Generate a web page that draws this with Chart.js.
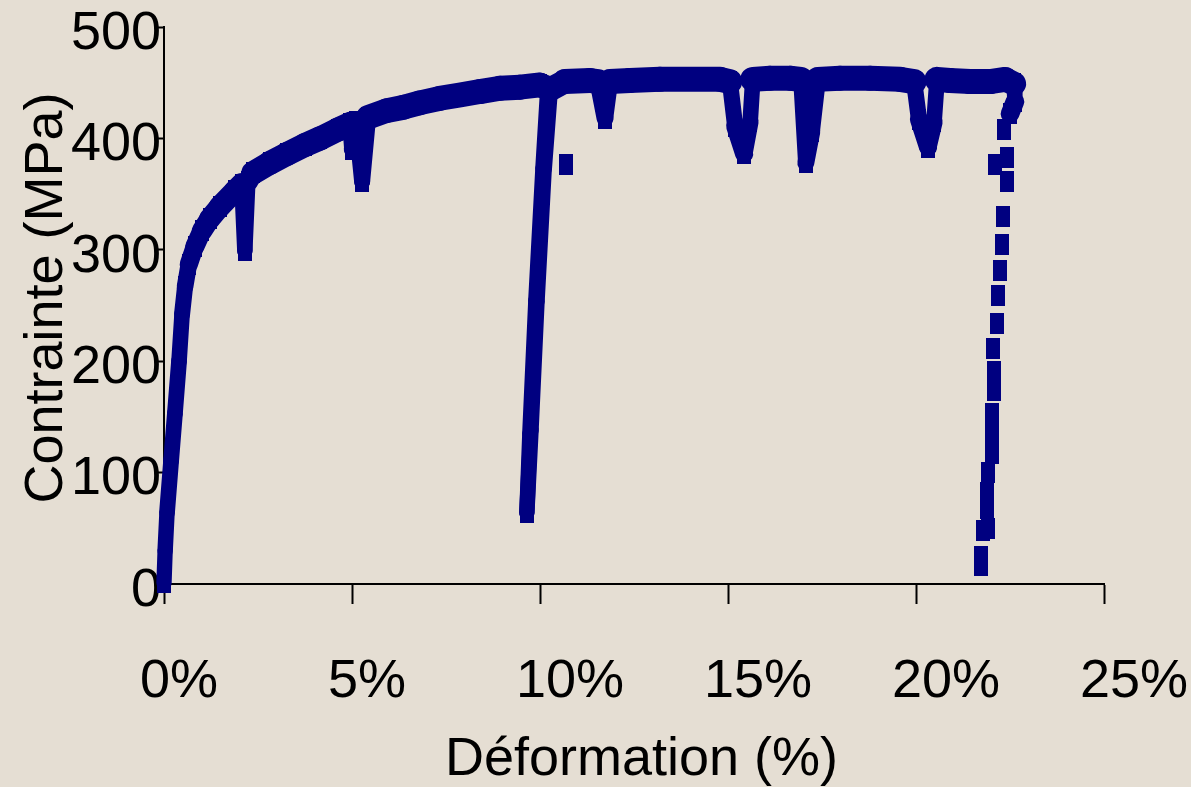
<!DOCTYPE html>
<html>
<head>
<meta charset="utf-8">
<script src="https://cdn.jsdelivr.net/npm/chart.js@4.4.1/dist/chart.umd.min.js"></script>
<style>
  html, body { margin: 0; padding: 0; background: #E5DED3; }
  canvas { display: block; }
</style>
</head>
<body>
<canvas id="courbe" width="1191" height="787"></canvas>
<script>
// Courbe de traction : déformation (%) / contrainte (MPa), dans l'ordre de l'essai
const deformation = [
    0.00, 0.03, 0.08, 0.19, 0.29, 0.40, 0.48, 0.56, 0.66, 0.82, 1.01, 1.22, 1.49, 1.89,
    2.07, 2.15, 2.23, 2.37, 2.82, 3.27, 3.75, 4.15, 4.63,
    4.95, 5.00, 5.11, 5.27, 5.43, 5.93, 6.38, 6.81, 7.34, 7.87, 8.40, 8.94, 9.47, 10.00,
    10.21, 10.08, 9.89, 9.73, 9.65, 9.76, 9.92, 10.11, 10.27,
    10.66, 11.33, 11.54, 11.73, 11.86, 12.39, 13.19, 13.99, 14.79,
    15.05, 15.19, 15.43, 15.59, 15.66, 16.12, 16.65,
    16.94, 17.07, 17.23, 17.39, 17.98, 18.78, 19.57,
    19.95, 20.08, 20.32, 20.48, 20.56, 20.90, 21.44, 21.97, 22.37, 22.61, 22.63, 22.50
];
const contrainte = [
    1, 30, 64, 111, 153, 200, 242, 267, 287, 303, 317, 328, 339, 353,
    359, 299, 361, 369, 378, 386, 394, 400, 408,
    413, 390, 415, 361, 419, 425, 428, 432, 436, 439, 442, 445, 446, 448,
    445, 373, 254, 135, 64, 138, 254, 373, 444,
    451, 452, 451, 418, 451, 452, 453, 453, 453,
    451, 411, 386, 415, 453, 454, 454,
    453, 378, 406, 453, 454, 454, 453,
    451, 417, 392, 415, 453, 452, 451, 451, 453, 449, 433, 422
];

// Décharge finale (points espacés)
const deformationFin = [
    22.34, 22.10, 22.42, 22.42, 22.31, 22.29, 22.23, 22.18, 22.15, 22.05, 22.07, 22.07,
    22.02, 22.02, 22.02, 21.91, 21.89, 21.89, 21.78, 21.91, 21.73, 21.73
];
const contrainteFin = [
    408, 377, 383, 361, 330, 305, 281, 259, 234, 211, 191, 174,
    153, 135, 117, 100, 82, 68, 48, 50, 25, 17
];

// Point isolé
const deformationIsole = [10.69];
const contrainteIsole = [377];

const ticksX = [0, 5, 10, 15, 20, 25];
const ticksY = [0, 100, 200, 300, 400, 500];

const bleu = '#000080';
const police = "'Liberation Sans', Arial, sans-serif";

// Marqueur rectangulaire (plus haut que large)
function marqueur(w, h) {
    const c = document.createElement('canvas');
    c.width = w;
    c.height = h;
    const g = c.getContext('2d');
    g.fillStyle = bleu;
    g.fillRect(0, 0, w, h);
    return c;
}
const rect = marqueur(14, 21);

function points(xs, ys) {
    return xs.map((x, i) => ({ x: x, y: ys[i] }));
}

const fond = {
    id: 'fond',
    beforeDraw(chart) {
        const ctx = chart.ctx;
        ctx.save();
        ctx.fillStyle = '#E5DED3';
        ctx.fillRect(0, 0, chart.width, chart.height);
        ctx.restore();
    }
};

new Chart(document.getElementById('courbe'), {
    type: 'scatter',
    data: {
        datasets: [{
            data: points(deformation, contrainte),
            showLine: true,
            tension: 0,
            borderColor: bleu,
            backgroundColor: bleu,
            borderWidth: 20,
            borderCapStyle: 'round',
            borderJoinStyle: 'round',
            pointStyle: rect,
            pointRadius: 7,
            clip: false,
            segment: {
                // trait plus épais sur les parties horizontales (nuage de points dense)
                borderWidth: ctx => {
                    const dx = ctx.p1.x - ctx.p0.x;
                    const dy = ctx.p1.y - ctx.p0.y;
                    const len = Math.hypot(dx, dy) || 1;
                    return 15 + 10 * Math.abs(dx) / len;
                }
            }
        }, {
            data: points(deformationFin, contrainteFin),
            showLine: false,
            pointStyle: rect,
            pointRadius: 7,
            backgroundColor: bleu,
            clip: false
        }, {
            data: points(deformationIsole, contrainteIsole),
            showLine: false,
            pointStyle: rect,
            pointRadius: 7,
            backgroundColor: bleu,
            clip: false
        }]
    },
    options: {
        responsive: false,
        animation: false,
        devicePixelRatio: 1,
        layout: { padding: { top: 25, right: 87, left: 0, bottom: 0 } },
        plugins: {
            legend: { display: false },
            tooltip: { enabled: false }
        },
        scales: {
            x: {
                type: 'linear',
                min: 0,
                max: 25,
                afterBuildTicks: s => { s.ticks = ticksX.map(v => ({ value: v })); },
                afterFit: s => { s.height = 203; s.paddingLeft = 0; s.paddingRight = 0; },
                ticks: {
                    callback: v => v + '%',
                    color: '#000',
                    font: { family: police, size: 54 },
                    align: 'start',
                    labelOffset: -24,
                    padding: 46
                },
                grid: { drawOnChartArea: false, tickLength: 20, tickColor: '#000', tickWidth: 2 },
                border: { color: '#000', width: 2 },
                title: {
                    display: true,
                    text: '\u00a0Déformation (%)',
                    color: '#000',
                    font: { family: police, size: 54, lineHeight: 1 },
                    padding: { top: 0, bottom: 0 }
                }
            },
            y: {
                type: 'linear',
                min: 0,
                max: 500,
                afterBuildTicks: s => { s.ticks = ticksY.map(v => ({ value: v })); },
                afterFit: s => { s.width = 164; s.paddingTop = 0; s.paddingBottom = 0; },
                ticks: {
                    color: '#000',
                    font: { family: police, size: 54 },
                    padding: -7,
                    labelOffset: 7
                },
                grid: { drawOnChartArea: false, tickLength: 10, tickColor: '#000', tickWidth: 2 },
                border: { color: '#000', width: 2 },
                title: {
                    display: true,
                    text: '\u00a0Contrainte (MPa)',
                    color: '#000',
                    font: { family: police, size: 54, lineHeight: 1 },
                    padding: { top: 20, bottom: 0 }
                }
            }
        }
    },
    plugins: [fond]
});
</script>
</body>
</html>
